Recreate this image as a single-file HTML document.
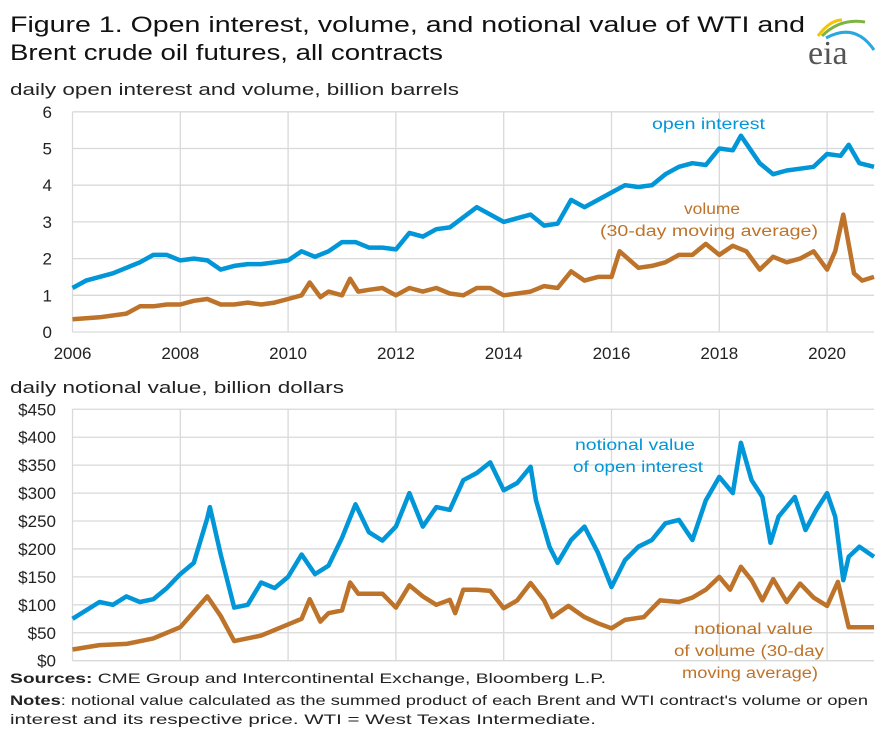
<!DOCTYPE html>
<html><head><meta charset="utf-8"><style>
body{margin:0;background:#fff;width:896px;height:739px;overflow:hidden;font-family:"Liberation Sans",sans-serif;}
svg{position:absolute;left:0;top:0}
</style></head><body>
<svg id="c" width="896" height="739">
<text x="10" y="32" font-size="22" fill="#111" textLength="795" lengthAdjust="spacingAndGlyphs">Figure 1. Open interest, volume, and notional value of WTI and</text>
<text x="10" y="60" font-size="22" fill="#111" textLength="433" lengthAdjust="spacingAndGlyphs">Brent crude oil futures, all contracts</text>
<g>
<path d="M818,36 Q830,20 842,20" stroke="#f5c400" stroke-width="3" fill="none"/>
<path d="M822,36 Q840,18 865,22" stroke="#7cb342" stroke-width="3" fill="none"/>
<path d="M826,38 Q855,22 874,50" stroke="#29a8e0" stroke-width="3" fill="none"/>
<text x="808" y="64" font-family="Liberation Serif,serif" font-size="34" fill="#555">eia</text>
</g>
<text x="10" y="95" font-size="16.5" fill="#222" textLength="449" lengthAdjust="spacingAndGlyphs">daily open interest and volume, billion barrels</text>
<text x="10" y="393" font-size="16.5" fill="#222" textLength="334" lengthAdjust="spacingAndGlyphs">daily notional value, billion dollars</text>
<g id="top"></g><g id="bot"></g>
<text x="652" y="129" font-size="15.5" fill="#0096d7" textLength="113" lengthAdjust="spacingAndGlyphs">open interest</text>
<text x="684" y="214" font-size="15.5" fill="#bd732a" textLength="56" lengthAdjust="spacingAndGlyphs">volume</text>
<text x="600" y="236" font-size="15.5" fill="#bd732a" textLength="218" lengthAdjust="spacingAndGlyphs">(30-day  moving  average)</text>
<text x="575" y="450" font-size="15.5" fill="#0096d7" textLength="120" lengthAdjust="spacingAndGlyphs">notional value</text>
<text x="573" y="472" font-size="15.5" fill="#0096d7" textLength="130" lengthAdjust="spacingAndGlyphs">of open interest</text>
<text x="694" y="634" font-size="15.5" fill="#bd732a" textLength="119" lengthAdjust="spacingAndGlyphs">notional value</text>
<text x="674" y="656" font-size="15.5" fill="#bd732a" textLength="150" lengthAdjust="spacingAndGlyphs">of volume  (30-day</text>
<text x="682" y="678" font-size="15.5" fill="#bd732a" textLength="136" lengthAdjust="spacingAndGlyphs">moving  average)</text>
<text x="10" y="683" font-size="14" fill="#222" textLength="596" lengthAdjust="spacingAndGlyphs"><tspan font-weight="bold">Sources:</tspan> CME Group and Intercontinental Exchange, Bloomberg L.P.</text>
<text x="10" y="705" font-size="14" fill="#222" textLength="858" lengthAdjust="spacingAndGlyphs"><tspan font-weight="bold">Notes</tspan>:  notional value calculated as the summed product of each Brent and WTI contract's volume or open</text>
<text x="10" y="724" font-size="14" fill="#222" textLength="586" lengthAdjust="spacingAndGlyphs">interest and its respective price. WTI = West Texas Intermediate.</text>
</svg>
<script>
const NS="http://www.w3.org/2000/svg";
const xTicks=[2006,2008,2010,2012,2014,2016,2018,2020];
const topTicks=[0,1,2,3,4,5,6];
const botTicks=[0,50,100,150,200,250,300,350,400,450];
const oiYears=[2006,2006.25,2006.5,2006.75,2007,2007.25,2007.5,2007.75,2008,2008.25,2008.5,2008.75,2009,2009.25,2009.5,2009.75,2010,2010.25,2010.5,2010.75,2011,2011.25,2011.5,2011.75,2012,2012.25,2012.5,2012.75,2013,2013.5,2014,2014.5,2014.75,2015,2015.25,2015.5,2015.75,2016,2016.25,2016.5,2016.75,2017,2017.25,2017.5,2017.75,2018,2018.25,2018.4,2018.75,2019,2019.25,2019.5,2019.75,2020,2020.25,2020.4,2020.6,2020.87];
const oiValues=[1.2,1.4,1.5,1.6,1.75,1.9,2.1,2.1,1.95,2.0,1.95,1.7,1.8,1.85,1.85,1.9,1.95,2.2,2.05,2.2,2.45,2.45,2.3,2.3,2.25,2.7,2.6,2.8,2.85,3.4,3.0,3.2,2.9,2.95,3.6,3.4,3.6,3.8,4.0,3.95,4.0,4.3,4.5,4.6,4.55,5.0,4.95,5.35,4.6,4.3,4.4,4.45,4.5,4.85,4.8,5.1,4.6,4.5];
const volYears=[2006,2006.5,2007,2007.25,2007.5,2007.75,2008,2008.25,2008.5,2008.75,2009,2009.25,2009.5,2009.75,2010,2010.25,2010.4,2010.6,2010.75,2011,2011.15,2011.3,2011.5,2011.75,2012,2012.25,2012.5,2012.75,2013,2013.25,2013.5,2013.75,2014,2014.25,2014.5,2014.75,2015,2015.25,2015.5,2015.75,2016,2016.15,2016.5,2016.75,2017,2017.25,2017.5,2017.75,2018,2018.25,2018.5,2018.75,2019,2019.25,2019.5,2019.75,2020,2020.15,2020.3,2020.5,2020.65,2020.87];
const volValues=[0.35,0.4,0.5,0.7,0.7,0.75,0.75,0.85,0.9,0.75,0.75,0.8,0.75,0.8,0.9,1.0,1.35,0.95,1.1,1.0,1.45,1.1,1.15,1.2,1.0,1.2,1.1,1.2,1.05,1.0,1.2,1.2,1.0,1.05,1.1,1.25,1.2,1.65,1.4,1.5,1.5,2.2,1.75,1.8,1.9,2.1,2.1,2.4,2.1,2.35,2.2,1.7,2.05,1.9,2.0,2.2,1.7,2.2,3.2,1.6,1.4,1.5];
const noiYears=[2006,2006.5,2006.75,2007,2007.25,2007.5,2007.75,2008,2008.25,2008.5,2008.55,2008.75,2009,2009.25,2009.5,2009.75,2010,2010.25,2010.5,2010.75,2011,2011.25,2011.5,2011.75,2012,2012.25,2012.5,2012.75,2013,2013.25,2013.5,2013.75,2014,2014.25,2014.5,2014.6,2014.85,2015,2015.25,2015.5,2015.75,2016,2016.25,2016.5,2016.75,2017,2017.25,2017.5,2017.75,2018,2018.25,2018.4,2018.6,2018.8,2018.95,2019.1,2019.4,2019.6,2019.8,2020,2020.15,2020.3,2020.4,2020.6,2020.87];
const noiValues=[75,105,100,115,105,110,130,155,175,255,275,190,95,100,140,130,150,190,155,170,220,280,230,215,240,300,240,275,270,323,336,355,305,318,347,287,204,175,216,240,193,132,180,204,216,246,252,216,287,329,300,390,323,293,211,258,293,234,270,300,258,144,186,204,186];
const nvYears=[2006,2006.5,2007,2007.5,2008,2008.5,2008.75,2009,2009.5,2010,2010.25,2010.4,2010.6,2010.75,2011,2011.15,2011.3,2011.75,2012,2012.25,2012.5,2012.75,2013,2013.1,2013.25,2013.5,2013.75,2014,2014.25,2014.5,2014.75,2014.9,2015.2,2015.5,2015.75,2016,2016.25,2016.6,2016.9,2017.25,2017.5,2017.75,2018,2018.2,2018.4,2018.6,2018.8,2019,2019.25,2019.5,2019.75,2020,2020.2,2020.4,2020.87];
const nvValues=[20,28,30,40,60,115,80,35,45,65,75,110,70,85,90,140,120,120,95,135,115,100,109,85,127,127,125,94,108,139,108,78,98,78,67,58,73,78,108,105,113,127,150,127,168,144,108,146,105,138,113,98,141,60,60];

const L=72.5,R=874,x0=2006,pxYr=53.9;
const X=y=>L+(y-x0)*pxYr;
const yTop=v=>332-v*36.7;
const yBot=v=>660.7-v*0.5587;
function el(tag,attrs,parent){const e=document.createElementNS(NS,tag);for(const k in attrs)e.setAttribute(k,attrs[k]);parent.appendChild(e);return e;}
function panel(g,ticks,yf,fmt,yBottom,yTopPx,showX,pname){
  ticks.forEach(t=>{
    const ln=el('line',{x1:L,x2:R,y1:yf(t),y2:yf(t),stroke:'#d9d9d9','stroke-width':1.3},g);
    
    
    const tx=el('text',{x:fmt==='$'?56:52,y:yf(t)+6,'font-size':17,fill:'#222','text-anchor':'end'},g);
    tx.textContent=fmt==='$'?'$'+t:t;
    
    
  });
  xTicks.forEach(t=>{
    const ln=el('line',{x1:X(t),x2:X(t),y1:yTopPx,y2:yBottom,stroke:'#d9d9d9','stroke-width':1.3},g);
    
    
    if(showX){
      const tx=el('text',{x:X(t),y:yBottom+27,'font-size':17,fill:'#222','text-anchor':'middle'},g);
      tx.textContent=t;
      
      
    }
  });
}
function series(g,xs,vs,yf,color,name){
  const d=xs.map((x,i)=>(i?'L':'M')+X(x).toFixed(1)+','+yf(vs[i]).toFixed(1)).join(' ');
  const p=el('path',{d:d,fill:'none',stroke:color,'stroke-width':4.5,'stroke-linejoin':'round'},g);
  
  
}
const gt=document.getElementById('top'),gb=document.getElementById('bot');
panel(gt,topTicks,yTop,'',332,112,true,'top');
panel(gb,botTicks,yBot,'$',660.7,409,false,'bottom');
series(gt,oiYears,oiValues,yTop,'#0096d7','open-interest-line');
series(gt,volYears,volValues,yTop,'#bd732a','volume-line');
series(gb,noiYears,noiValues,yBot,'#0096d7','notional-open-interest-line');
series(gb,nvYears,nvValues,yBot,'#bd732a','notional-volume-line');
</script>
</body></html>
